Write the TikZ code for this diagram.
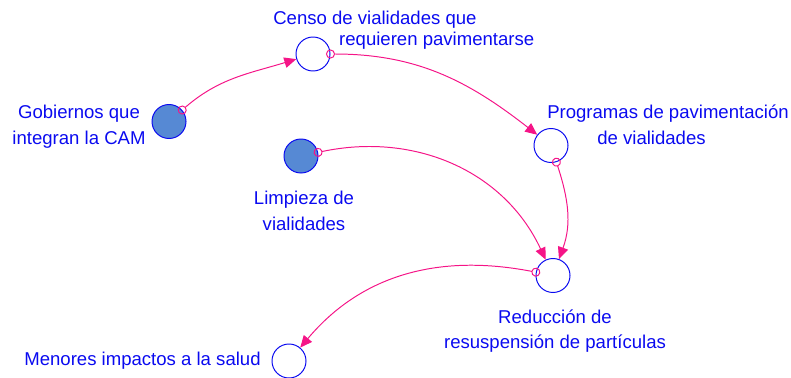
\documentclass[tikz,border=0pt]{standalone}
\usepackage{fontspec}
\setmainfont{Liberation Sans}
\usetikzlibrary{arrows.meta}
\definecolor{vblue}{RGB}{10,10,240}
\definecolor{vfill}{RGB}{86,137,212}
\definecolor{vlink}{RGB}{245,20,135}

\begin{document}
\begin{tikzpicture}[x=0.025cm, y=0.025cm,
  stock/.style={circle, draw=vblue, line width=0.7pt, minimum size=0.85cm,
                inner sep=0pt, fill=#1},
  stock/.default=white,
  lbl/.style={font=\fontsize{13.2}{17.8}\selectfont, text=vblue,
              inner sep=0pt, anchor=base, align=center},
  link/.style={vlink, line width=0.7pt, shorten <=-3.2pt,
               {Circle[open, length=6.4pt, width=6.4pt]}-{Triangle[length=8.5pt, width=7.5pt]}}
]
\useasboundingbox (0,0) rectangle (791,377);

\node[stock=vfill] (gob)   at (169,255.5) {};
\node[stock]       (censo) at (313,323) {};
\node[stock]       (prog)  at (551,231.5) {};
\node[stock=vfill] (limp)  at (301,221) {};
\node[stock]       (reduc) at (553,101.5) {};
\node[stock]       (salud) at (289,16) {};

% labels: anchor base = last line
\node[lbl] (gobl) at (79,233) {Gobiernos que\\integran la CAM};
\node[lbl, align=left, anchor=base west] (censol) at (273,332)
  {Censo de vialidades que\\[-3pt]\hspace*{46.9pt}requieren pavimentarse};
\node[lbl, align=left, anchor=base west] (progl) at (547,233)
  {Programas de pavimentación\\\hspace*{35.6pt}de vialidades};
\node[lbl] (limpl)  at (304,147) {Limpieza de\\vialidades};
\node[lbl] (reducl) at (555,28.5) {Reducción de\\resuspensión de partículas};
\node[lbl] (saludl) at (142.5,12) {Menores impactos a la salud};

\draw[link] (gob)   to[out=41, in=197] (censo);
\draw[link] (censo) to[out=0, in=142] (prog);
\draw[link] (prog)  to[out=-72, in=70] (reduc);
\draw[link] (limp)  to[out=12, in=115] (reduc);
\draw[link] (reduc) to[out=169, in=50] (salud);
\end{tikzpicture}
\end{document}
